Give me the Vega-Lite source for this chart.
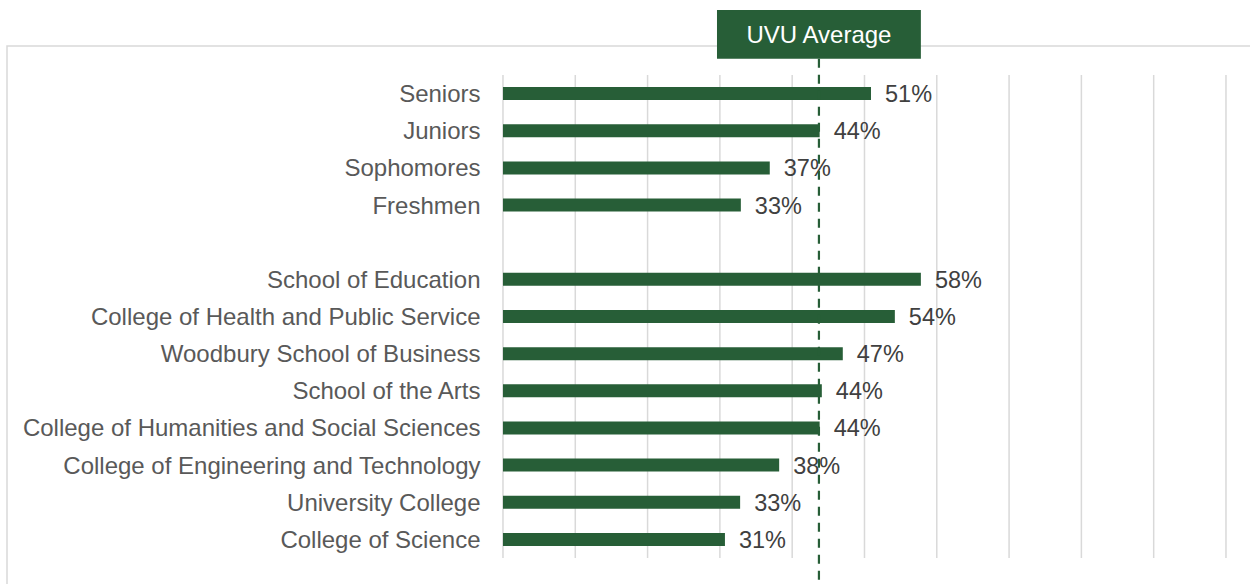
{
  "$schema": "https://vega.github.io/schema/vega-lite/v6.json",
  "width": 1250,
  "height": 541,
  "autosize": {"type": "none"},
  "padding": {"left": 7, "top": 46, "right": 0, "bottom": 0},
  "config": {"view": {"stroke": "#d9d9d9", "strokeWidth": 1.5}, "font": "Liberation Sans"},
  "datasets": {
    "rates": [
      {"group": "Seniors", "rate": 0.509},
      {"group": "Juniors", "rate": 0.438},
      {"group": "Sophomores", "rate": 0.369},
      {"group": "Freshmen", "rate": 0.329},
      {"group": "School of Education", "rate": 0.578},
      {"group": "College of Health and Public Service", "rate": 0.542},
      {"group": "Woodbury School of Business", "rate": 0.470},
      {"group": "School of the Arts", "rate": 0.441},
      {"group": "College of Humanities and Social Sciences", "rate": 0.438},
      {"group": "College of Engineering and Technology", "rate": 0.382},
      {"group": "University College", "rate": 0.328},
      {"group": "College of Science", "rate": 0.307}
    ],
    "ticks": [
      {"t": 0}, {"t": 0.1}, {"t": 0.2}, {"t": 0.3}, {"t": 0.4}, {"t": 0.5},
      {"t": 0.6}, {"t": 0.7}, {"t": 0.8}, {"t": 0.9}, {"t": 1.0}
    ],
    "average": [{"label": "UVU Average", "value": 0.437}]
  },
  "layer": [
    {
      "data": {"name": "ticks"},
      "mark": {"type": "rule", "color": "#d9d9d9", "strokeWidth": 1.5},
      "encoding": {
        "x": {"field": "t", "type": "quantitative", "scale": {"domain": [-0.686, 1.0429], "nice": false, "zero": false}, "axis": null},
        "y": {"datum": 0, "type": "quantitative", "scale": {"domain": [-0.7805, 13.7805], "nice": false, "zero": false}, "axis": null},
        "y2": {"datum": 13}
      }
    },
    {
      "data": {"name": "rates"},
      "mark": {"type": "bar", "color": "#275E37"},
      "encoding": {
        "y": {
          "field": "group", "type": "nominal", "sort": null,
          "scale": {
            "type": "band",
            "domain": ["  ", "Seniors", "Juniors", "Sophomores", "Freshmen", " ", "School of Education", "College of Health and Public Service", "Woodbury School of Business", "School of the Arts", "College of Humanities and Social Sciences", "College of Engineering and Technology", "University College", "College of Science", "   "],
            "paddingInner": 0.65, "paddingOuter": 0.1055
          },
          "axis": {
            "title": null, "orient": "left", "offset": -496, "labelPadding": 23, "labelOffset": 1.5,
            "ticks": false, "tickSize": 0, "domain": false, "grid": false, "labelLimit": 0,
            "labelFontSize": 24, "labelColor": "#595959", "labelFont": "Liberation Sans"
          }
        },
        "x": {"field": "rate", "type": "quantitative", "scale": {"domain": [-0.686, 1.0429], "nice": false, "zero": false}, "axis": null},
        "x2": {"datum": 0}
      }
    },
    {
      "data": {"name": "rates"},
      "mark": {"type": "text", "align": "left", "baseline": "middle", "dx": 14, "dy": 1.5, "fontSize": 23.5, "color": "#404040"},
      "encoding": {
        "y": {
          "field": "group", "type": "nominal", "sort": null,
          "scale": {
            "type": "band",
            "domain": ["  ", "Seniors", "Juniors", "Sophomores", "Freshmen", " ", "School of Education", "College of Health and Public Service", "Woodbury School of Business", "School of the Arts", "College of Humanities and Social Sciences", "College of Engineering and Technology", "University College", "College of Science", "   "],
            "paddingInner": 0.65, "paddingOuter": 0.1055
          },
          "axis": null
        },
        "x": {"field": "rate", "type": "quantitative", "scale": {"domain": [-0.686, 1.0429], "nice": false, "zero": false}, "axis": null},
        "text": {"field": "rate", "type": "quantitative", "format": ".0%"}
      }
    },
    {
      "data": {"name": "average"},
      "mark": {"type": "rule", "color": "#275E37", "strokeWidth": 2.2, "strokeDash": [9, 7], "clip": false},
      "encoding": {
        "x": {"field": "value", "type": "quantitative", "scale": {"domain": [-0.686, 1.0429], "nice": false, "zero": false}, "axis": null},
        "y": {"datum": 13.44, "type": "quantitative", "scale": {"domain": [-0.7805, 13.7805], "nice": false, "zero": false}, "axis": null},
        "y2": {"datum": -0.7805}
      }
    },
    {
      "data": {"name": "average"},
      "mark": {"type": "rect", "color": "#275E37", "clip": false},
      "encoding": {
        "x": {"datum": 0.296, "type": "quantitative", "scale": {"domain": [-0.686, 1.0429], "nice": false, "zero": false}, "axis": null},
        "x2": {"datum": 0.578},
        "y": {"datum": 14.75, "type": "quantitative", "scale": {"domain": [-0.7805, 13.7805], "nice": false, "zero": false}, "axis": null},
        "y2": {"datum": 13.44}
      }
    },
    {
      "data": {"name": "average"},
      "mark": {"type": "text", "align": "center", "baseline": "middle", "dy": 1.5, "fontSize": 24, "color": "#ffffff", "clip": false},
      "encoding": {
        "x": {"field": "value", "type": "quantitative", "scale": {"domain": [-0.686, 1.0429], "nice": false, "zero": false}, "axis": null},
        "y": {"datum": 14.1, "type": "quantitative", "scale": {"domain": [-0.7805, 13.7805], "nice": false, "zero": false}, "axis": null},
        "text": {"field": "label"}
      }
    }
  ],
  "resolve": {"scale": {"y": "independent"}, "axis": {"y": "independent"}}
}
